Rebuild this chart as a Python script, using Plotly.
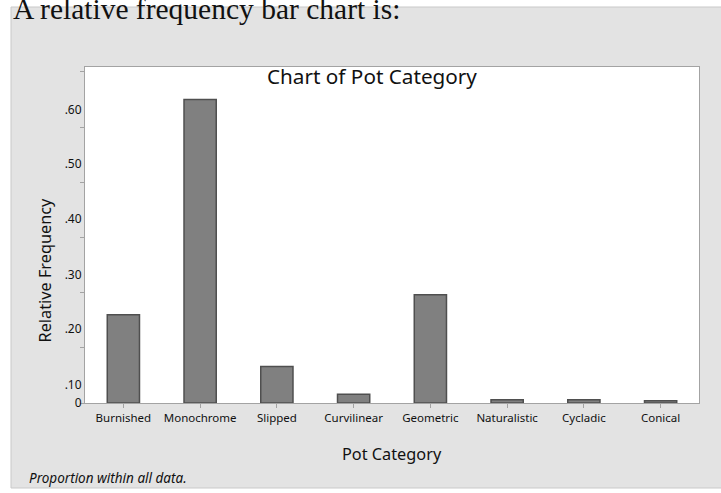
import plotly.graph_objects as go

# ---- data ----
categories = ["Burnished", "Monochrome", "Slipped", "Curvilinear",
              "Geometric", "Naturalistic", "Cycladic", "Conical"]
rel_freq = [0.160, 0.550, 0.066, 0.016, 0.196, 0.006, 0.006, 0.004]

# tick labels as printed on the chart (label text and where it sits)
ytick_text = ["0", ".10", ".20", ".30", ".40", ".50", ".60"]
ytick_pos = [0.0, 0.033, 0.134, 0.232, 0.334, 0.433, 0.531]

W, H = 721, 493
L, R, T, B = 85, 699, 67, 403   # plot area in pixels


def px(x):
    return (x - L) / (R - L)


def py(y):
    return (B - y) / (B - T)


SANS = "Noto Sans"

fig = go.Figure()
fig.add_trace(go.Bar(
    x=categories, y=rel_freq, width=0.42,
    marker=dict(color="#808080", line=dict(color="#4f4f4f", width=1.5)),
    showlegend=False, hoverinfo="x+y",
))

shapes = [
    # grey outer panel
    dict(type="rect", xref="paper", yref="paper", layer="below",
         x0=px(11), x1=px(725), y0=py(488), y1=py(7),
         fillcolor="#e3e3e3", line=dict(color="#c9c9c9", width=1)),
    # white plot area
    dict(type="rect", xref="paper", yref="paper", layer="below",
         x0=0, x1=1, y0=0, y1=1,
         fillcolor="white", line=dict(width=0)),
]

annotations = [
    dict(text="A relative frequency bar chart is:", xref="paper", yref="paper",
         x=px(11), y=py(9), xanchor="left", yanchor="middle", showarrow=False,
         font=dict(family="Liberation Serif", size=29.5, color="#111111")),
    dict(text="Chart of Pot Category", xref="paper", yref="paper",
         x=px(371.5), y=py(76), xanchor="center", yanchor="middle", showarrow=False,
         font=dict(family=SANS, size=20.7, color="#111111")),
    dict(text="Pot Category", xref="paper", yref="paper",
         x=px(391.5), y=py(454), xanchor="center", yanchor="middle", showarrow=False,
         font=dict(family=SANS, size=16.3, color="#111111")),
    dict(text="Relative Frequency", xref="paper", yref="paper",
         x=px(44.5), y=py(270), xanchor="center", yanchor="middle", showarrow=False,
         textangle=-90,
         font=dict(family=SANS, size=16.3, color="#111111")),
    dict(text="<i>Proportion within all data.</i>", xref="paper", yref="paper",
         x=px(27), y=py(478), xanchor="left", yanchor="middle", showarrow=False,
         font=dict(family=SANS, size=13.5, color="#111111")),
]

fig.update_layout(
    width=W, height=H,
    margin=dict(l=L, r=W - R, t=T, b=H - B, pad=0),
    paper_bgcolor="white",
    plot_bgcolor="rgba(0,0,0,0)",
    shapes=shapes,
    annotations=annotations,
    bargap=0.5,
    font=dict(family=SANS, color="#111111"),
    xaxis=dict(
        range=[-0.5, 7.5], showgrid=False, zeroline=False,
        showline=True, mirror=True, linecolor="#a3a3a3", linewidth=1,
        ticks="outside", ticklen=4, tickcolor="#a3a3a3", tickwidth=1,
        tickfont=dict(family=SANS, size=11.5, color="#111111"),
    ),
    yaxis=dict(
        range=[0, 0.609], showgrid=False, zeroline=False,
        showline=True, mirror=True, linecolor="#a3a3a3", linewidth=1,
        tickmode="array", tickvals=ytick_pos, ticktext=ytick_text,
        ticks="", ticklen=0,
        tickfont=dict(family=SANS, size=12, color="#111111"),
        minor=dict(ticks="outside", tickmode="linear", tick0=0, dtick=0.1,
                   ticklen=4, tickcolor="#a3a3a3", tickwidth=1, showgrid=False),
    ),
)

fig.write_html("out.html", config={"displayModeBar": False})

# remove the browser's default page margin so the figure sits at (0, 0)
with open("out.html", "r", encoding="utf-8") as f:
    html = f.read()
html = html.replace("<head>", "<head><style>html,body{margin:0;padding:0;overflow:hidden;}</style>", 1)
with open("out.html", "w", encoding="utf-8") as f:
    f.write(html)
